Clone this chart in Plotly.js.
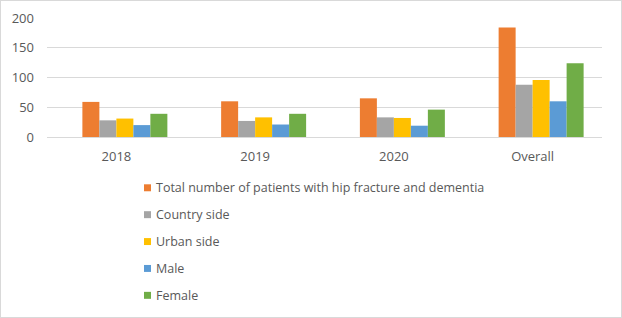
<!DOCTYPE html>
<html>
<head>
<meta charset="utf-8">
<script src="https://cdn.plot.ly/plotly-3.0.1.min.js"></script>
<style>
  html, body { margin: 0; padding: 0; background: #fff; }
  #chart { width: 620px; height: 316px; border: 1px solid #d9d9d9; }
</style>
</head>
<body>
<div id="chart"></div>
<script>
// Hip fracture with dementia: counts by year and overall
const categories = ['2018', '2019', '2020', 'Overall'];
const seriesNames = [
  'Total number of patients with hip fracture and dementia',
  'Country side',
  'Urban side',
  'Male',
  'Female'
];
const totalPatients = [59, 60, 65, 184];
const countrySide   = [28, 27, 33, 88];
const urbanSide     = [31, 33, 32, 96];
const male          = [20, 21, 19, 60];
const female        = [39, 39, 46, 124];
const yTicks = [0, 50, 100, 150, 200];

const colors = ['#ED7D31', '#A5A5A5', '#FFC000', '#5B9BD5', '#70AD47'];
const seriesValues = [totalPatients, countrySide, urbanSide, male, female];

// Each category holds six equal slots; the first slot stays empty,
// so the five bars sit right of the category centre.
const slotCount = 6;
const groupWidth = 0.735;
const slotWidth = groupWidth / slotCount;

const traces = seriesValues.map((vals, i) => ({
  type: 'bar',
  name: seriesNames[i],
  x: categories,
  y: vals,
  width: slotWidth,
  offset: -groupWidth / 2 + (i + 1) * slotWidth,
  marker: { color: colors[i], line: { width: 0 } },
  hoverinfo: 'x+y+name'
}));

// Plot area geometry (px) used to place the hand-drawn legend below it
const W = 620, H = 316;
const M = { l: 46, r: 19, t: 17, b: 179.5 };
const plotW = W - M.l - M.r;
const plotH = H - M.t - M.b;
const toPaperX = px => (px - M.l) / plotW;
const toPaperY = py => (H - M.b - py) / plotH;

// Legend: small squares with labels, stacked vertically
const legendLeft = 143, legendTop = 187.5, legendStep = 27, swatch = 7;
const shapes = [];
const annotations = [];
seriesNames.forEach((name, i) => {
  const cy = legendTop + i * legendStep;
  shapes.push({
    type: 'rect', xref: 'paper', yref: 'paper',
    x0: toPaperX(legendLeft), x1: toPaperX(legendLeft + swatch),
    y0: toPaperY(cy + swatch / 2), y1: toPaperY(cy - swatch / 2),
    fillcolor: colors[i], line: { width: 0 }
  });
  annotations.push({
    xref: 'paper', yref: 'paper',
    x: toPaperX(legendLeft + swatch + 4), y: toPaperY(cy),
    xanchor: 'left', yanchor: 'middle',
    text: name, showarrow: false, borderpad: 0,
    font: { family: 'Open Sans, sans-serif', size: 12.5, color: '#595959' }
  });
});

const textColor = '#595959';
const layout = {
  width: W,
  height: H,
  margin: Object.assign({ autoexpand: false }, M),
  paper_bgcolor: '#ffffff',
  plot_bgcolor: '#ffffff',
  barmode: 'overlay',
  showlegend: false,
  font: { family: 'Open Sans, sans-serif', size: 13, color: textColor },
  xaxis: {
    type: 'category',
    showgrid: false,
    showline: true,
    linecolor: '#d9d9d9',
    linewidth: 1,
    ticks: '',
    ticklabelstandoff: 7,
    tickfont: { size: 13, color: textColor },
    zeroline: false
  },
  yaxis: {
    range: [0, 200],
    tickvals: yTicks,
    ticktext: yTicks.map(String),
    showgrid: true,
    gridcolor: '#d9d9d9',
    gridwidth: 1,
    zeroline: false,
    showline: false,
    ticks: '',
    ticklabelstandoff: 12,
    tickfont: { size: 13, color: textColor }
  },
  shapes: shapes,
  annotations: annotations
};

Plotly.newPlot('chart', traces, layout, { displayModeBar: false, staticPlot: true });
</script>
</body>
</html>
